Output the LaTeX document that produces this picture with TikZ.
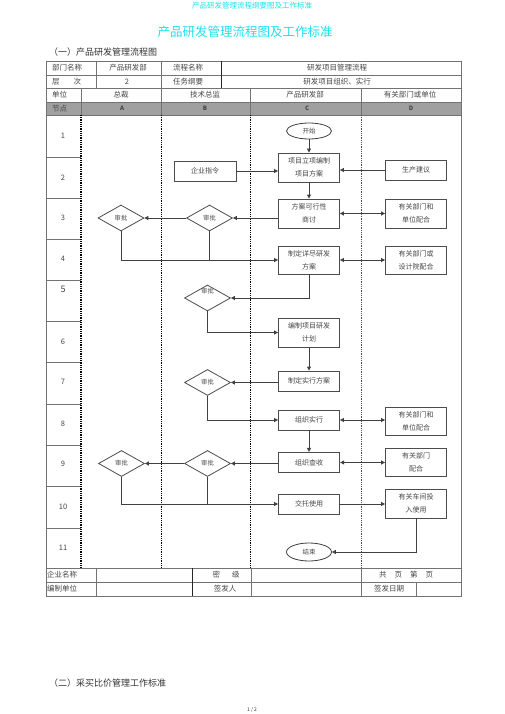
\documentclass[tikz,border=0pt]{standalone}
\usepackage{fontspec}
\setmainfont{Noto Sans CJK SC}
\usetikzlibrary{shapes.geometric,arrows.meta}
\definecolor{cyanT}{RGB}{30,225,235}
\definecolor{txtC}{RGB}{70,70,70}
\definecolor{greyF}{RGB}{160,160,160}
\begin{document}
\begin{tikzpicture}[x=1pt,y=-1pt,
  tbl/.style={draw=black!55, line width=0.7pt},
  tblk/.style={draw=black!85, line width=0.9pt},
  lane/.style={draw=black, line width=0.9pt, dash pattern=on 0.9pt off 0.9pt},
  fbox/.style={draw=black!70, line width=0.9pt, minimum width=61pt, inner sep=0pt, align=center, font=\fontsize{7}{13}\selectfont, text=txtC},
  dec/.style={diamond, draw=black!70, line width=0.8pt, minimum width=46pt, minimum height=26pt, inner sep=0pt, font=\fontsize{6.3}{7}\selectfont, text=txtC},
  term/.style={ellipse, draw=black!75, line width=0.8pt, minimum width=45pt, minimum height=16pt, inner sep=0pt, font=\fontsize{6.5}{7}\selectfont, text=txtC},
  flow/.style={draw=black!75, line width=0.9pt},
  arr/.style={flow, -{Triangle[length=4pt,width=4pt]}},
  darr/.style={flow, {Triangle[length=4pt,width=4pt]}-{Triangle[length=4pt,width=4pt]}},
  tt/.style={font=\fontsize{7.5}{8}\selectfont, text=txtC, inner sep=0pt},
  ttw/.style={tt, anchor=west}
]
\useasboundingbox (0,0) rectangle (505,714);
\fill[white] (0,0) rectangle (505,714);

% headings
\node[font=\fontsize{7.5}{8}\selectfont, text=cyanT] (hd) at (252,6) {产品研发管理流程纲要图及工作标准};
\node[font=\fontsize{12.5}{14}\selectfont, text=cyanT] (title) at (245,32) {产品研发管理流程图及工作标准};
\node[anchor=west, font=\fontsize{9}{10}\selectfont, text=black!80, inner sep=0pt] (sec1) at (49,52) {（一）产品研发管理流程图};
\node[anchor=west, font=\fontsize{9}{10}\selectfont, text=black!80, inner sep=0pt] (sec2) at (49,683) {（二）采买比价管理工作标准};
\node[font=\fontsize{5}{6}\selectfont, text=black!80] (pg) at (252,710) {1 / 2};

% header table
\fill[greyF] (46,102) rectangle (461,115);
\foreach \yy in {61,75,88,102,115} \draw[tbl] (46,\yy) -- (461,\yy);
\foreach \xx in {96,161} \draw[tbl] (\xx,61) -- (\xx,88);
\draw[tblk] (221,61) -- (221,88);
\draw[tbl] (81,88) -- (81,115);
\foreach \xx in {161,250,361} \draw[tbl] (\xx,88) -- (\xx,115);
\draw[tbl] (46,61) -- (46,597);
\draw[tbl, line width=1pt] (461,61) -- (461,597);

% node column
\foreach \yy in {157,198,239,280,321,362,404,445,486,528} \draw[tbl] (46,\yy) -- (81,\yy);
% lanes
\draw[lane, line width=1.3pt] (81,115) -- (81,568);
\draw[lane] (161,115) -- (161,568);
\draw[lane] (250,115) -- (250,568);
\draw[lane, draw=black!70] (361,115) -- (361,568);

% bottom table
\foreach \yy in {568,582,596} \draw[tbl] (46,\yy) -- (461,\yy);
\draw[tbl] (96,568) -- (96,596);
\draw[tblk] (192,568) -- (192,596);
\foreach \xx in {251,361} \draw[tbl] (\xx,568) -- (\xx,596);
\draw[tbl] (416,582) -- (416,596);

% table texts
\node[ttw] (t1) at (52,68) {部门名称};
\node[tt] (t2) at (128,68) {产品研发部};
\node[ttw] (t3) at (173,68) {流程名称};
\node[tt] (t4) at (337,68) {研发项目管理流程};
\node[ttw] (t5) at (52,81.5) {层\hspace{14pt}次};
\node[tt] (t6) at (127,81.5) {2};
\node[ttw] (t7) at (173,81.5) {任务纲要};
\node[tt] (t8) at (337,81.5) {研发项目组织、实行};
\node[ttw] (t9) at (52,95) {单位};
\node[tt] (t10) at (121,95) {总裁};
\node[tt] (t11) at (205,95) {技术总监};
\node[tt] (t12) at (305,95) {产品研发部};
\node[tt] (t13) at (410,95) {有关部门或单位};
\node[ttw] (t14) at (52,108.5) {节点};
\node[tt, font=\fontsize{6}{7}\selectfont\bfseries] (tA) at (122,108.5) {A};
\node[tt, font=\fontsize{6}{7}\selectfont\bfseries] (tB) at (205,108.5) {B};
\node[tt, font=\fontsize{6}{7}\selectfont\bfseries] (tC) at (307,108.5) {C};
\node[tt, font=\fontsize{6}{7}\selectfont\bfseries] (tD) at (411,108.5) {D};

% row numbers
\node[tt] (n1) at (63,136) {1};
\node[tt] (n2) at (63,178) {2};
\node[tt] (n3) at (63,218) {3};
\node[tt] (n4) at (63,259) {4};
\node[tt, font=\fontsize{9}{10}\selectfont] (n5) at (63,289) {5};
\node[tt] (n6) at (63,342) {6};
\node[tt] (n7) at (63,382) {7};
\node[tt] (n8) at (63,424) {8};
\node[tt] (n9) at (63,464) {9};
\node[tt] (n10) at (63,507) {10};
\node[tt] (n11) at (63,548) {11};

% bottom texts
\node[ttw] (u1) at (47,575) {企业名称};
\node[tt] (u2) at (226,575) {密\hspace{12pt}级};
\node[tt] (u3) at (406,575) {共\hspace{8pt}页\hspace{8pt}第\hspace{8pt}页};
\node[ttw] (u4) at (47,589) {编制单位};
\node[tt] (u5) at (225,589) {签发人};
\node[tt] (u6) at (389,589) {签发日期};

% flow nodes
\node[term] (start) at (309,131) {开始};
\node[fbox, minimum width=62pt, minimum height=20pt] (qy) at (205,171) {企业指令};
\node[fbox, minimum height=29pt] (b1) at (309,167.5) {项目立项编制\\项目方案};
\node[fbox, minimum height=20pt] (sc) at (416,170) {生产建议};
\node[fbox, minimum height=29pt] (b2) at (309,213.5) {方案可行性\\商讨};
\node[fbox, minimum height=29pt] (d2) at (416,213.5) {有关部门和\\单位配合};
\node[dec] (A3) at (121,218) {审批};
\node[dec] (B3) at (209.5,218) {审批};
\node[fbox, minimum height=28pt] (b3) at (309,260) {制定详尽研发\\方案};
\node[fbox, minimum height=28pt] (d3) at (416,260) {有关部门或\\设计院配合};
\node[dec] (B5) at (207.5,298) {\smash{\raisebox{5pt}{审批}}};
\node[fbox, minimum height=29pt] (b4) at (309,332.5) {编制项目研发\\计划};
\node[fbox, minimum height=20pt] (b5) at (309,381) {制定实行方案};
\node[dec] (B7) at (207.5,382.5) {审批};
\node[fbox, minimum height=20pt] (b6) at (309,420) {组织实行};
\node[fbox, minimum height=28pt] (d6) at (416,421) {有关部门和\\单位配合};
\node[fbox, minimum height=20pt, line width=1.2pt] (b7) at (309,462.5) {组织查收};
\node[fbox, minimum height=28pt] (d7) at (416,462) {有关部门\\配合};
\node[dec] (A9) at (121.5,463.5) {审批};
\node[dec] (B9) at (207.5,463.5) {审批};
\node[fbox, minimum height=20pt] (b8) at (309,504) {交托使用};
\node[fbox, minimum height=29pt] (d8) at (416,503.5) {有关车间投\\入使用};
\node[term, minimum height=18pt] (end) at (309,552) {结束};

% connectors
\draw[arr] (start) -- (b1);
\draw[arr] (qy.east) -- (qy.east -| b1.west);
\draw[arr] (sc.west) -- (sc.west -| b1.east);
\draw[arr] (b1) -- (b2);
\draw[darr] (b2.east) -- (b2.east -| d2.west);
\draw[arr] (B3.east -| b2.west) -- (B3.east);
\draw[arr] (B3.west) -- (A3.east);
\draw[arr] (A3.south) |- (b3.west);
\draw[flow] (B3.south) -- (B3.south |- b3.west);
\draw[darr] (b3.east) -- (b3.east -| d3.west);
\draw[arr] (b3.south) |- (B5.east);
\draw[arr] (B5.south) |- (b4.west);
\draw[arr] (b4) -- (b5);
\draw[arr] (B7.east -| b5.west) -- (B7.east);
\draw[arr] (B7.south) |- (b6.west);
\draw[darr] (b6.east) -- (b6.east -| d6.west);
\draw[arr] (b6) -- (b7);
\draw[darr] (b7.east) -- (b7.east -| d7.west);
\draw[arr] (B9.east -| b7.west) -- (B9.east);
\draw[arr] (B9.west) -- (A9.east);
\draw[arr] (A9.south) |- (b8.west);
\draw[flow] (B9.south) -- (B9.south |- b8.west);
\draw[arr] (b8.east) -- (b8.east -| d8.west);
\draw[arr] (d8.south) |- (end.east);
\end{tikzpicture}
\end{document}
